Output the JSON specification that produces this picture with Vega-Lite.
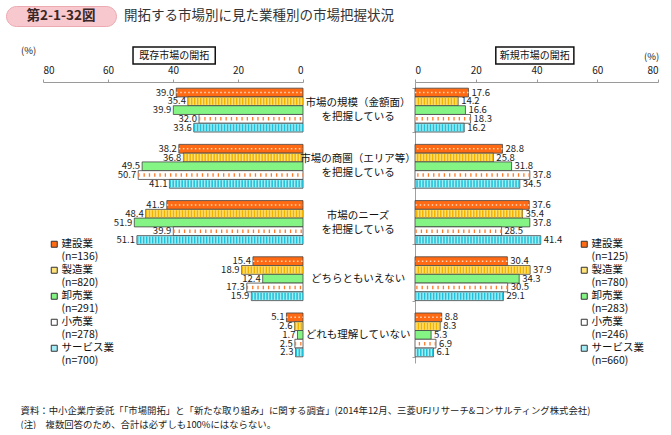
{
  "$schema": "https://vega.github.io/schema/vega-lite/v6.json",
  "padding": {"left": 5, "top": 5, "right": 0, "bottom": 0},
  "background": "white",
  "config": {"font": "Noto Sans CJK JP", "view": {"stroke": null}},
  "datasets": {
    "existing": [
      {"q": "市場の規模（金額面）\nを把握している", "industry": "建設業", "value": 39.0},
      {"q": "市場の規模（金額面）\nを把握している", "industry": "製造業", "value": 35.4},
      {"q": "市場の規模（金額面）\nを把握している", "industry": "卸売業", "value": 39.9},
      {"q": "市場の規模（金額面）\nを把握している", "industry": "小売業", "value": 32.0},
      {"q": "市場の規模（金額面）\nを把握している", "industry": "サービス業", "value": 33.6},
      {"q": "市場の商圏（エリア等）\nを把握している", "industry": "建設業", "value": 38.2},
      {"q": "市場の商圏（エリア等）\nを把握している", "industry": "製造業", "value": 36.8},
      {"q": "市場の商圏（エリア等）\nを把握している", "industry": "卸売業", "value": 49.5},
      {"q": "市場の商圏（エリア等）\nを把握している", "industry": "小売業", "value": 50.7},
      {"q": "市場の商圏（エリア等）\nを把握している", "industry": "サービス業", "value": 41.1},
      {"q": "市場のニーズ\nを把握している", "industry": "建設業", "value": 41.9},
      {"q": "市場のニーズ\nを把握している", "industry": "製造業", "value": 48.4},
      {"q": "市場のニーズ\nを把握している", "industry": "卸売業", "value": 51.9},
      {"q": "市場のニーズ\nを把握している", "industry": "小売業", "value": 39.9},
      {"q": "市場のニーズ\nを把握している", "industry": "サービス業", "value": 51.1},
      {"q": "どちらともいえない", "industry": "建設業", "value": 15.4},
      {"q": "どちらともいえない", "industry": "製造業", "value": 18.9},
      {"q": "どちらともいえない", "industry": "卸売業", "value": 12.4},
      {"q": "どちらともいえない", "industry": "小売業", "value": 17.3},
      {"q": "どちらともいえない", "industry": "サービス業", "value": 15.9},
      {"q": "どれも理解していない", "industry": "建設業", "value": 5.1},
      {"q": "どれも理解していない", "industry": "製造業", "value": 2.6},
      {"q": "どれも理解していない", "industry": "卸売業", "value": 1.7},
      {"q": "どれも理解していない", "industry": "小売業", "value": 2.5},
      {"q": "どれも理解していない", "industry": "サービス業", "value": 2.3}
    ],
    "new": [
      {"q": "市場の規模（金額面）\nを把握している", "industry": "建設業", "value": 17.6},
      {"q": "市場の規模（金額面）\nを把握している", "industry": "製造業", "value": 14.2},
      {"q": "市場の規模（金額面）\nを把握している", "industry": "卸売業", "value": 16.6},
      {"q": "市場の規模（金額面）\nを把握している", "industry": "小売業", "value": 18.3},
      {"q": "市場の規模（金額面）\nを把握している", "industry": "サービス業", "value": 16.2},
      {"q": "市場の商圏（エリア等）\nを把握している", "industry": "建設業", "value": 28.8},
      {"q": "市場の商圏（エリア等）\nを把握している", "industry": "製造業", "value": 25.8},
      {"q": "市場の商圏（エリア等）\nを把握している", "industry": "卸売業", "value": 31.8},
      {"q": "市場の商圏（エリア等）\nを把握している", "industry": "小売業", "value": 37.8},
      {"q": "市場の商圏（エリア等）\nを把握している", "industry": "サービス業", "value": 34.5},
      {"q": "市場のニーズ\nを把握している", "industry": "建設業", "value": 37.6},
      {"q": "市場のニーズ\nを把握している", "industry": "製造業", "value": 35.4},
      {"q": "市場のニーズ\nを把握している", "industry": "卸売業", "value": 37.8},
      {"q": "市場のニーズ\nを把握している", "industry": "小売業", "value": 28.5},
      {"q": "市場のニーズ\nを把握している", "industry": "サービス業", "value": 41.4},
      {"q": "どちらともいえない", "industry": "建設業", "value": 30.4},
      {"q": "どちらともいえない", "industry": "製造業", "value": 37.9},
      {"q": "どちらともいえない", "industry": "卸売業", "value": 34.3},
      {"q": "どちらともいえない", "industry": "小売業", "value": 30.5},
      {"q": "どちらともいえない", "industry": "サービス業", "value": 29.1},
      {"q": "どれも理解していない", "industry": "建設業", "value": 8.8},
      {"q": "どれも理解していない", "industry": "製造業", "value": 8.3},
      {"q": "どれも理解していない", "industry": "卸売業", "value": 5.3},
      {"q": "どれも理解していない", "industry": "小売業", "value": 6.9},
      {"q": "どれも理解していない", "industry": "サービス業", "value": 6.1}
    ]
  },
  "title": {
    "text": ["資料：中小企業庁委託「「市場開拓」と「新たな取り組み」に関する調査」(2014年12月、三菱UFJリサーチ&コンサルティング株式会社)", "(注)　複数回答のため、合計は必ずしも100%にはならない。"],
    "orient": "bottom", "anchor": "start", "dx": 15, "offset": 40,
    "fontSize": 9.4, "fontWeight": "normal", "lineHeight": 13.5, "color": "#222"
  },
  "bounds": "flush",
  "spacing": 76,
  "vconcat": [
    {
      "bounds": "flush",
      "spacing": 8,
      "hconcat": [
        {
          "width": 110, "height": 20,
          "view": {"fill": "#F7C8CD", "stroke": "#EDA9B2", "strokeWidth": 1, "cornerRadius": 10},
          "data": {"values": [{"fig": "第2-1-32図"}]},
          "mark": {"type": "text", "fontSize": 13.5, "fontWeight": "bold", "color": "#3a2626"},
          "encoding": {"text": {"field": "fig", "type": "nominal"}}
        },
        {
          "width": 300, "height": 20,
          "data": {"values": [{"title": "開拓する市場別に見た業種別の市場把握状況"}]},
          "mark": {"type": "text", "fontSize": 13.5, "align": "left", "color": "#333"},
          "encoding": {"text": {"field": "title", "type": "nominal"}, "x": {"value": 0}}
        }
      ]
    },
    {
      "bounds": "flush",
      "spacing": 112,
      "resolve": {"scale": {"color": "independent", "x": "independent", "y": "independent"}, "legend": {"color": "independent"}},
      "hconcat": [
        {
          "width": 297, "height": 281,
          "data": {"name": "existing"},
          "layer": [
            {
              "mark": {"type": "bar", "stroke": "#444", "strokeWidth": 0.8},
              "encoding": {
                "y": {"field": "q", "type": "nominal", "sort": null, "scale": {"paddingInner": 0.22, "paddingOuter": 0.11}, "axis": null},
                "yOffset": {"field": "industry", "type": "nominal", "sort": ["建設業", "製造業", "卸売業", "小売業", "サービス業"], "scale": {"paddingInner": 0, "paddingOuter": 0}},
                "x": {"field": "value", "type": "quantitative", "scale": {"domain": [0, 80], "range": [297, 37], "nice": false},
                  "axis": {"orient": "top", "values": [0, 20, 40, 60, 80], "grid": false, "domainColor": "#9a9a9a", "tickColor": "#9a9a9a", "tickSize": 3, "labelPadding": 4, "labelFontSize": 10, "labelColor": "#222",
                    "title": "(%)", "titleFontSize": 9.5, "titleFontWeight": "normal", "titleColor": "#222", "titleX": 22, "titleY": -32, "titleAlign": "center", "titleBaseline": "middle", "titleAngle": 0}},
                "color": {"field": "industry", "type": "nominal", "scale": {"domain": ["建設業", "製造業", "卸売業", "小売業", "サービス業"], "range": ["#FF6A13", "#FFE27A", "#84F584", "#FFFFFF", "#A4EDF6"]},
                  "legend": {"title": null, "orient": "none", "legendX": 43, "legendY": 157, "direction": "vertical", "symbolType": "square", "symbolSize": 36, "symbolStrokeColor": "#333", "symbolStrokeWidth": 1, "labelFontSize": 10.5, "labelColor": "#111", "labelOffset": 2, "rowPadding": 2, "padding": 0,
                    "labelExpr": "datum.label == '建設業' ? ['建設業', '(n=136)'] : datum.label == '製造業' ? ['製造業', '(n=820)'] : datum.label == '卸売業' ? ['卸売業', '(n=291)'] : datum.label == '小売業' ? ['小売業', '(n=278)'] : ['サービス業', '(n=700)']"}}
              }
            },
            {
              "transform": [{"filter": "datum.industry == '建設業'"}],
              "mark": {"type": "rule", "color": "#FFD9C2", "strokeWidth": 1.5, "strokeDash": [1.5, 2.5]},
              "encoding": {
                "y": {"field": "q", "type": "nominal", "sort": null, "axis": null},
                "yOffset": {"field": "industry", "type": "nominal", "sort": ["建設業", "製造業", "卸売業", "小売業", "サービス業"]},
                "x": {"field": "value", "type": "quantitative"}, "x2": {"datum": 0}
              }
            },
            {
              "transform": [{"filter": "datum.industry == '製造業'"}],
              "mark": {"type": "rule", "color": "#F2B200", "strokeWidth": 7, "strokeDash": [1.5, 1.5]},
              "encoding": {
                "y": {"field": "q", "type": "nominal", "sort": null, "axis": null},
                "yOffset": {"field": "industry", "type": "nominal", "sort": ["建設業", "製造業", "卸売業", "小売業", "サービス業"]},
                "x": {"field": "value", "type": "quantitative"}, "x2": {"datum": 0}
              }
            },
            {
              "transform": [{"filter": "datum.industry == '小売業'"}],
              "mark": {"type": "rule", "color": "#FF7A2A", "strokeWidth": 3.5, "strokeDash": [1.3, 4]},
              "encoding": {
                "y": {"field": "q", "type": "nominal", "sort": null, "axis": null},
                "yOffset": {"field": "industry", "type": "nominal", "sort": ["建設業", "製造業", "卸売業", "小売業", "サービス業"]},
                "x": {"field": "value", "type": "quantitative"}, "x2": {"datum": 0}
              }
            },
            {
              "transform": [{"filter": "datum.industry == 'サービス業'"}],
              "mark": {"type": "rule", "color": "#1FC0D8", "strokeWidth": 7, "strokeDash": [1.5, 1.5]},
              "encoding": {
                "y": {"field": "q", "type": "nominal", "sort": null, "axis": null},
                "yOffset": {"field": "industry", "type": "nominal", "sort": ["建設業", "製造業", "卸売業", "小売業", "サービス業"]},
                "x": {"field": "value", "type": "quantitative"}, "x2": {"datum": 0}
              }
            },
            {
              "mark": {"type": "text", "align": "right", "baseline": "middle", "dx": -2, "fontSize": 9.5, "color": "#222"},
              "encoding": {
                "y": {"field": "q", "type": "nominal", "sort": null, "axis": null},
                "yOffset": {"field": "industry", "type": "nominal", "sort": ["建設業", "製造業", "卸売業", "小売業", "サービス業"]},
                "x": {"field": "value", "type": "quantitative"},
                "text": {"field": "value", "type": "quantitative", "format": ".1f"}
              }
            },
            {
              "data": {"values": [{"panel": "既存市場の開拓"}]},
              "mark": {"type": "rect", "fill": "white", "stroke": "#111", "strokeWidth": 1.5},
              "encoding": {"x": {"datum": 27}, "x2": {"datum": 52.3}, "y": {"value": -35}, "y2": {"value": -18}}
            },
            {
              "data": {"values": [{"panel": "既存市場の開拓"}]},
              "mark": {"type": "text", "fontSize": 10, "color": "#111", "baseline": "middle"},
              "encoding": {"x": {"datum": 39.65}, "y": {"value": -26.5}, "text": {"field": "panel", "type": "nominal"}}
            }
          ]
        },
        {
          "width": 243, "height": 281,
          "data": {"name": "new"},
          "layer": [
            {
              "mark": {"type": "bar", "stroke": "#444", "strokeWidth": 0.8},
              "encoding": {
                "y": {"field": "q", "type": "nominal", "sort": null, "scale": {"paddingInner": 0.22, "paddingOuter": 0.11},
                  "axis": {"orient": "left", "title": null, "labels": false, "domainColor": "#a0a0a0", "tickColor": "#a0a0a0", "tickSize": 3, "tickBand": "extent"}},
                "yOffset": {"field": "industry", "type": "nominal", "sort": ["建設業", "製造業", "卸売業", "小売業", "サービス業"], "scale": {"paddingInner": 0, "paddingOuter": 0}},
                "x": {"field": "value", "type": "quantitative", "scale": {"domain": [0, 80], "nice": false},
                  "axis": {"orient": "top", "values": [0, 20, 40, 60, 80], "grid": false, "domainColor": "#9a9a9a", "tickColor": "#9a9a9a", "tickSize": 3, "labelPadding": 4, "labelFontSize": 10, "labelColor": "#222",
                    "title": "(%)", "titleFontSize": 9.5, "titleFontWeight": "normal", "titleColor": "#222", "titleX": 236, "titleY": -26, "titleAlign": "center", "titleBaseline": "middle", "titleAngle": 0}},
                "color": {"field": "industry", "type": "nominal", "scale": {"domain": ["建設業", "製造業", "卸売業", "小売業", "サービス業"], "range": ["#FF6A13", "#FFE27A", "#84F584", "#FFFFFF", "#A4EDF6"]},
                  "legend": {"title": null, "orient": "none", "legendX": 164, "legendY": 157, "direction": "vertical", "symbolType": "square", "symbolSize": 36, "symbolStrokeColor": "#333", "symbolStrokeWidth": 1, "labelFontSize": 10.5, "labelColor": "#111", "labelOffset": 2, "rowPadding": 2, "padding": 0,
                    "labelExpr": "datum.label == '建設業' ? ['建設業', '(n=125)'] : datum.label == '製造業' ? ['製造業', '(n=780)'] : datum.label == '卸売業' ? ['卸売業', '(n=283)'] : datum.label == '小売業' ? ['小売業', '(n=246)'] : ['サービス業', '(n=660)']"}}
              }
            },
            {
              "transform": [{"filter": "datum.industry == '建設業'"}],
              "mark": {"type": "rule", "color": "#FFD9C2", "strokeWidth": 1.5, "strokeDash": [1.5, 2.5]},
              "encoding": {
                "y": {"field": "q", "type": "nominal", "sort": null},
                "yOffset": {"field": "industry", "type": "nominal", "sort": ["建設業", "製造業", "卸売業", "小売業", "サービス業"]},
                "x": {"field": "value", "type": "quantitative"}, "x2": {"datum": 0}
              }
            },
            {
              "transform": [{"filter": "datum.industry == '製造業'"}],
              "mark": {"type": "rule", "color": "#F2B200", "strokeWidth": 7, "strokeDash": [1.5, 1.5]},
              "encoding": {
                "y": {"field": "q", "type": "nominal", "sort": null},
                "yOffset": {"field": "industry", "type": "nominal", "sort": ["建設業", "製造業", "卸売業", "小売業", "サービス業"]},
                "x": {"field": "value", "type": "quantitative"}, "x2": {"datum": 0}
              }
            },
            {
              "transform": [{"filter": "datum.industry == '小売業'"}],
              "mark": {"type": "rule", "color": "#FF7A2A", "strokeWidth": 3.5, "strokeDash": [1.3, 4]},
              "encoding": {
                "y": {"field": "q", "type": "nominal", "sort": null},
                "yOffset": {"field": "industry", "type": "nominal", "sort": ["建設業", "製造業", "卸売業", "小売業", "サービス業"]},
                "x": {"field": "value", "type": "quantitative"}, "x2": {"datum": 0}
              }
            },
            {
              "transform": [{"filter": "datum.industry == 'サービス業'"}],
              "mark": {"type": "rule", "color": "#1FC0D8", "strokeWidth": 7, "strokeDash": [1.5, 1.5]},
              "encoding": {
                "y": {"field": "q", "type": "nominal", "sort": null},
                "yOffset": {"field": "industry", "type": "nominal", "sort": ["建設業", "製造業", "卸売業", "小売業", "サービス業"]},
                "x": {"field": "value", "type": "quantitative"}, "x2": {"datum": 0}
              }
            },
            {
              "mark": {"type": "text", "align": "left", "baseline": "middle", "dx": 3, "fontSize": 9.5, "color": "#222"},
              "encoding": {
                "y": {"field": "q", "type": "nominal", "sort": null},
                "yOffset": {"field": "industry", "type": "nominal", "sort": ["建設業", "製造業", "卸売業", "小売業", "サービス業"]},
                "x": {"field": "value", "type": "quantitative"},
                "text": {"field": "value", "type": "quantitative", "format": ".1f"}
              }
            },
            {
              "transform": [{"aggregate": [], "groupby": ["q"]}, {"filter": "indexof(datum.q, '\\n') >= 0"}],
              "mark": {"type": "text", "align": "center", "baseline": "middle", "lineBreak": "\n", "lineHeight": 14, "dy": -7, "fontSize": 10.5, "color": "#111"},
              "encoding": {
                "y": {"field": "q", "type": "nominal", "sort": null},
                "x": {"datum": -18.75},
                "text": {"field": "q", "type": "nominal"}
              }
            },
            {
              "transform": [{"aggregate": [], "groupby": ["q"]}, {"filter": "indexof(datum.q, '\\n') < 0"}],
              "mark": {"type": "text", "align": "center", "baseline": "middle", "fontSize": 10.5, "color": "#111"},
              "encoding": {
                "y": {"field": "q", "type": "nominal", "sort": null},
                "x": {"datum": -18.75},
                "text": {"field": "q", "type": "nominal"}
              }
            },
            {
              "data": {"values": [{"panel": "新規市場の開拓"}]},
              "mark": {"type": "rect", "fill": "white", "stroke": "#111", "strokeWidth": 1.5},
              "encoding": {"x": {"datum": 26.6}, "x2": {"datum": 52.3}, "y": {"value": -35}, "y2": {"value": -18}}
            },
            {
              "data": {"values": [{"panel": "新規市場の開拓"}]},
              "mark": {"type": "text", "fontSize": 10, "color": "#111", "baseline": "middle"},
              "encoding": {"x": {"datum": 39.45}, "y": {"value": -26.5}, "text": {"field": "panel", "type": "nominal"}}
            }
          ]
        }
      ]
    }
  ]
}
